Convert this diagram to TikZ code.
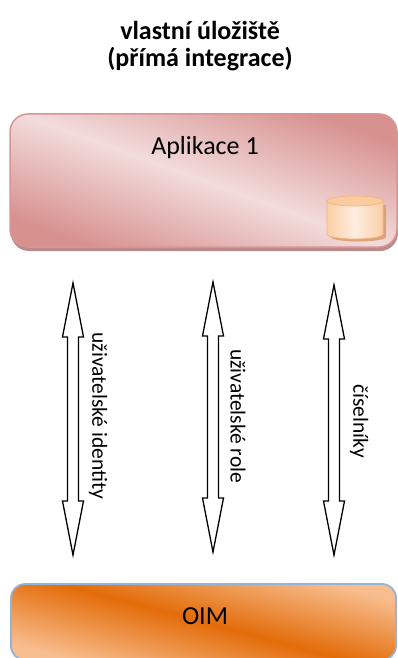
\documentclass[tikz,border=0pt]{standalone}
\usepackage{fontspec}
\setmainfont{Carlito}
\usetikzlibrary{shadings}
\begin{document}
\begin{tikzpicture}[x=1pt,y=-1pt,
  appbox/.style={rounded corners=18pt, draw=pinkedge, line width=1.5pt},
  blockarrow/.style={draw=black, fill=white, line width=1.3pt, line join=miter},
  lbl/.style={font=\fontsize{21.5}{24}\selectfont, rotate=-90, inner sep=0pt},
]
\definecolor{pinkedge}{HTML}{D99594}
\definecolor{pinkdark}{HTML}{D79290}
\definecolor{pinklight}{HTML}{F2DCDB}
\definecolor{orgdark}{HTML}{E36C09}
\definecolor{orglight}{HTML}{F8BD8E}
\definecolor{blueedge}{HTML}{95B3D7}
\definecolor{cylfill}{HTML}{FBCFA6}
\definecolor{cyllight}{HTML}{FDEDE0}
\definecolor{cyledge}{HTML}{F5B47E}
\definecolor{cylshadow}{HTML}{D9A27A}
\definecolor{appshadow}{HTML}{B98A8A}
\useasboundingbox (0,0) rectangle (397,658);
% title
\node[font=\bfseries\fontsize{26}{27}\selectfont, align=center] (title) at (200,46) {vlastní úložiště\\(přímá integrace)};
% app box shadow
\fill[color=appshadow, rounded corners=18pt] (11,118) rectangle (398,251);
\path[appbox, top color=pinkdark, bottom color=pinkdark, middle color=pinklight, shading angle=-20] (10,114) rectangle (397,247);
\node[font=\fontsize{26}{30}\selectfont] (app) at (205,148) {Aplikace 1};
% cylinder
\fill[color=cylshadow] (331,205) -- (386,205) -- (386,237) arc[x radius=27.5, y radius=4.5, start angle=0, end angle=180] -- cycle;
\shade[left color=cylfill, right color=cylfill, middle color=cyllight, draw=cyledge, line width=0.8pt] (327,201) -- (327,234) arc[x radius=28, y radius=5, start angle=180, end angle=0] -- (383,201) -- cycle;
\path[fill=cylfill!85!cyledge, draw=cyledge, line width=0.8pt] (355,201) ellipse[x radius=28, y radius=5];
\node (db) at (355,218) {};
% OIM box
\path[rounded corners=14pt, draw=blueedge, line width=1.8pt, top color=orglight, bottom color=orglight, middle color=orgdark, shading angle=-15] (11,584) rectangle (396,660);
\node[font=\fontsize{26}{30}\selectfont] (oim) at (205,616) {OIM};
% arrows
\newcommand{\myblockarrow}[3]{%
  \draw[blockarrow] (#1,#2) -- (#1+10.5,#2+54) -- (#1+5.5,#2+54) -- (#1+5.5,#3-54) -- (#1+10.5,#3-54) -- (#1,#3) -- (#1-10.5,#3-54) -- (#1-5.5,#3-54) -- (#1-5.5,#2+54) -- (#1-10.5,#2+54) -- cycle;}
\myblockarrow{73}{283}{555}
\myblockarrow{213}{282}{552}
\myblockarrow{334}{285}{555}
\node[lbl] (l1) at (98,416) {uživatelské identity};
\node[lbl] (l2) at (238,416) {uživatelské role};
\node[lbl] (l3) at (359,421) {číselníky};
\end{tikzpicture}
\end{document}
